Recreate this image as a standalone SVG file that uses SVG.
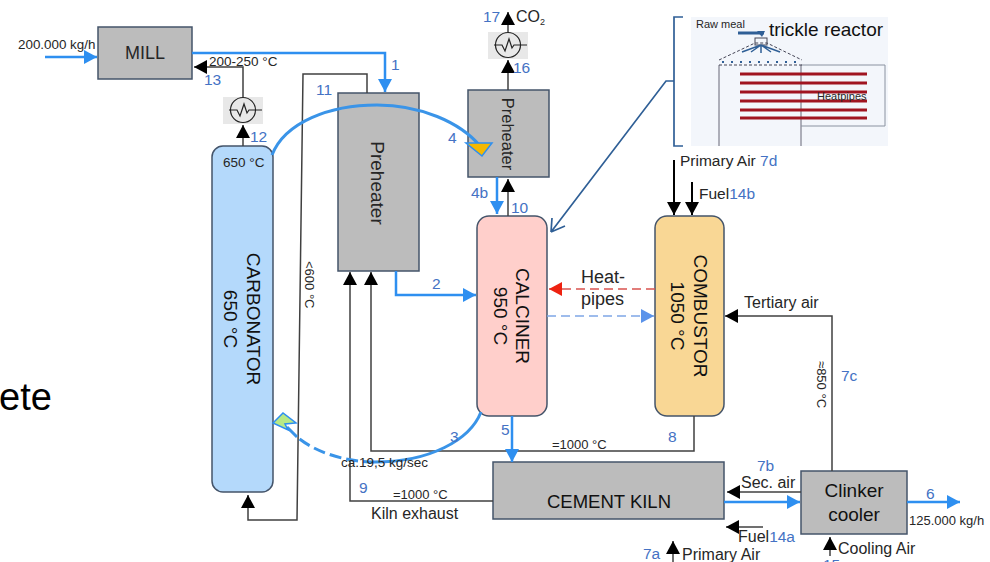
<svg xmlns="http://www.w3.org/2000/svg" width="990" height="562" viewBox="0 0 990 562">
<style>
text{font-family:"Liberation Sans",Arial,sans-serif;fill:#262626;font-size:16px}
.n{fill:#4472c4;font-size:15.5px}
.s{font-size:13px}
.g{fill:#bcbcbc;stroke:#44546a;stroke-width:1.5}
.k{fill:none;stroke:#404040;stroke-width:1.5}
.b{fill:none;stroke:#2e8ff0;stroke-width:2.5}
.hx{fill:#e8e8e8}
.c{fill:none;stroke:#222;stroke-width:1.2}
.bar{fill:none;stroke:#a01420;stroke-width:3}
.t{font-size:19px;fill:#111}
</style>
<defs>
<marker id="ka" markerUnits="userSpaceOnUse" markerWidth="14" markerHeight="14" refX="13" refY="7" orient="auto"><path d="M0,0L13,7L0,14z" fill="#000"/></marker>
<marker id="ba" markerUnits="userSpaceOnUse" markerWidth="14" markerHeight="16" refX="13" refY="7" orient="auto"><path d="M0,0L13,7L0,14z" fill="#2e8ff0"/></marker>
<marker id="ra" markerUnits="userSpaceOnUse" markerWidth="14" markerHeight="16" refX="13" refY="7" orient="auto"><path d="M0,0L13,7L0,14z" fill="#ee2211"/></marker>
<marker id="la" markerUnits="userSpaceOnUse" markerWidth="14" markerHeight="16" refX="13" refY="7" orient="auto"><path d="M0,0L13,7L0,14z" fill="#5b93ea"/></marker>
</defs>
<text x="-1" y="410" style="font-size:38px;fill:#000">ete</text>

<g id="mill"><rect class="g" x="98" y="27" width="94" height="52"/><text x="145" y="59" text-anchor="middle" style="font-size:18px">MILL</text></g>
<g id="hx1"><rect class="hx" x="223" y="97" width="40" height="27"/><circle class="c" cx="243" cy="110" r="12.5"/><path class="c" d="M229,110H237L240,116L244,104L247,113L249,110H262"/></g>
<g id="hx2"><rect class="hx" x="488" y="32" width="40" height="27"/><circle class="c" cx="508" cy="45" r="12.5"/><path class="c" d="M494,45H502L505,51L509,39L512,48L514,45H527"/></g>
<g id="carbonator"><rect x="212" y="146" width="61" height="346" rx="11" fill="#b4d9fb" stroke="#44546a" stroke-width="1.5"/><text x="223" y="167" style="font-size:13.5px">650 °C</text><text class="t" transform="translate(247,319) rotate(90)" text-anchor="middle">CARBONATOR</text><text class="t" transform="translate(224,319) rotate(90)" text-anchor="middle">650 °C</text></g>
<g id="preheater1"><rect class="g" x="338" y="93" width="81" height="178"/><text transform="translate(371,183) rotate(90)" text-anchor="middle" style="font-size:19px">Preheater</text></g>
<g id="preheater2"><rect class="g" x="468" y="90" width="81" height="87"/><text transform="translate(502,134) rotate(90)" text-anchor="middle" style="font-size:16.5px">Preheater</text></g>
<g id="calciner"><rect x="477" y="216" width="70" height="200" rx="12" fill="#ffcfcb" stroke="#44546a" stroke-width="1.5"/><text class="t" transform="translate(516,316) rotate(90)" text-anchor="middle">CALCINER</text><text class="t" transform="translate(494,316) rotate(90)" text-anchor="middle">950 °C</text></g>
<g id="combustor"><rect x="655" y="216" width="69" height="200" rx="12" fill="#f9d795" stroke="#44546a" stroke-width="1.5"/><text class="t" transform="translate(694,316) rotate(90)" text-anchor="middle">COMBUSTOR</text><text class="t" transform="translate(671,316) rotate(90)" text-anchor="middle">1050 °C</text></g>
<g id="kiln"><rect class="g" x="493" y="462" width="231" height="57"/><text class="t" x="609" y="508" text-anchor="middle" style="font-size:18.5px">CEMENT KILN</text></g>
<g id="cooler"><rect class="g" x="801" y="471" width="106" height="63"/><text class="t" x="854" y="497" text-anchor="middle">Clinker</text><text class="t" x="854" y="521" text-anchor="middle">cooler</text></g>

<g id="trickle-reactor">
<rect x="691" y="17" width="197" height="129" fill="#f3f6fb"/>
<path d="M719,65V146M801,65V146" fill="none" stroke="#667" stroke-width="1"/>
<path d="M801,65H885V126H801" fill="none" stroke="#8a92a0" stroke-width="1"/>
<path d="M719,60L755,43H767L802,60M719,65H802" fill="none" stroke="#445" stroke-width="1" stroke-dasharray="3 2"/>
<path d="M722,62H800" fill="none" stroke="#2f5f96" stroke-width="2" stroke-dasharray="2 7"/>
<path d="M738,33H764" stroke="#2f5f96" stroke-width="3" fill="none"/>
<path d="M757,31H765L762,37Z" fill="#2f5f96"/>
<rect x="755" y="38" width="12" height="7" fill="none" stroke="#445" stroke-width="1"/>
<path d="M761,45V53M761,45L742,52M761,45L780,52M761,45L751,52M761,45L771,52" stroke="#2f5f96" stroke-width="1.5" fill="none"/>
<path class="bar" d="M740,74H867M740,83H867M740,92H867M740,101H867M740,110H867M740,118H867"/>
<text x="696" y="28" style="font-size:11px">Raw meal</text>
<text x="769" y="36" style="font-size:19px;fill:#111">trickle reactor</text>
<text x="817" y="100" style="font-size:11px">Heatpipes</text>
</g>

<g id="connectors">
<path class="b" d="M45,57H97" marker-end="url(#ba)"/>
<path class="b" d="M192,53H385V92" marker-end="url(#ba)"/>
<path class="k" d="M243,97V67H194" marker-end="url(#ka)"/>
<path class="k" d="M243,146V125" marker-end="url(#ka)"/>
<path class="k" d="M367,93V74H303L297,520H248V495" marker-end="url(#ka)"/>
<path class="k" d="M493,501H350V272" marker-end="url(#ka)"/>
<path class="k" d="M694,416V451H371V272" marker-end="url(#ka)"/>
<path class="k" d="M832,471V316H725" marker-end="url(#ka)"/>
<path class="b" d="M396,271V295H476" marker-end="url(#ba)"/>
<path class="b" d="M497,177V214" marker-end="url(#ba)"/>
<path class="k" d="M508,216V179" marker-end="url(#ka)"/>
<path class="k" d="M508,90V60" marker-end="url(#ka)"/>
<path class="k" d="M508,32V12" marker-end="url(#ka)"/>
<path class="b" d="M512,416V462" marker-end="url(#ba)"/>
<path class="b" d="M724,502H800" marker-end="url(#ba)"/>
<path class="b" d="M907,502H960" marker-end="url(#ba)"/>
<path class="k" d="M801,492H727" marker-end="url(#ka)"/>
<path class="k" d="M763,527H726" marker-end="url(#ka)"/>
<path class="k" d="M673,562V541" marker-end="url(#ka)"/>
<path class="k" d="M830,556V537" marker-end="url(#ka)"/>
<path d="M674,160V215" fill="none" stroke="#000" stroke-width="2" marker-end="url(#ka)"/>
<path d="M692,182V215" fill="none" stroke="#000" stroke-width="2" marker-end="url(#ka)"/>
<path d="M655,289H549" fill="none" stroke="#d9534f" stroke-width="1.5" stroke-dasharray="9 5" marker-end="url(#ra)"/>
<path d="M547,316H654" fill="none" stroke="#7fa6e6" stroke-width="1.5" stroke-dasharray="9 5" marker-end="url(#la)"/>
<path d="M683,17H674V146H683M674,81H666L551,232M551,232L552,218M551,232L565,226" fill="none" stroke="#2f5f96" stroke-width="1.7"/>
<path d="M272,155C285,122 330,105 377,105C420,105 460,122 480,146" fill="none" stroke="#3a94e8" stroke-width="3"/>
<path d="M466,143H492L482,156Z" fill="#f5b800" stroke="#2e8ff0" stroke-width="1.5"/>
<path d="M481,412C470,440 430,462 375,462" fill="none" stroke="#3a94e8" stroke-width="3"/>
<path d="M375,462C345,462 315,452 297,437" fill="none" stroke="#3a94e8" stroke-width="3" stroke-dasharray="12 5"/>
<path d="M297,437L287,427" fill="none" stroke="#3a94e8" stroke-width="3"/>
<path d="M273,423L283,413L296,423L285,424L288,430Z" fill="#b8e986" stroke="#2e8ff0" stroke-width="1.5"/>
</g>

<g id="labels">
<text x="18" y="49" style="font-size:13.4px">200.000 kg/h</text>
<text x="209" y="66" style="font-size:13.5px">200-250 °C</text>
<text x="204" y="85" class="n">13</text>
<text x="250" y="142" class="n">12</text>
<text x="316" y="95" class="n">11</text>
<text x="391" y="70" class="n">1</text>
<text x="448" y="143" class="n">4</text>
<text x="471" y="198" class="n">4b</text>
<text x="511" y="213" class="n">10</text>
<text x="432" y="289" class="n">2</text>
<text x="513" y="73" class="n">16</text>
<text x="483" y="22" class="n">17</text>
<text x="516" y="22">CO<tspan font-size="9" dy="3">2</tspan></text>
<text x="680" y="166" style="font-size:15.5px">Primary Air <tspan class="n">7d</tspan></text>
<text x="699" y="199" style="font-size:15.5px">Fuel<tspan class="n">14b</tspan></text>
<text x="581" y="283" style="font-size:18px">Heat-</text>
<text x="581" y="305" style="font-size:18px">pipes</text>
<text x="744" y="308">Tertiary air</text>
<text transform="translate(817,361) rotate(90)" class="s">≈850 °C</text>
<text x="841" y="381" class="n">7c</text>
<text transform="translate(305,261) rotate(90)" class="s">&lt;600 °C</text>
<text x="450" y="442" class="n">3</text>
<text x="501" y="435" class="n">5</text>
<text x="668" y="442" class="n">8</text>
<text x="552" y="449" class="s">=1000 °C</text>
<text x="341" y="467" style="font-size:13.5px">ca.19,5 kg/sec</text>
<text x="359" y="493" class="n">9</text>
<text x="393" y="499" class="s">=1000 °C</text>
<text x="371" y="519">Kiln exhaust</text>
<text x="757" y="471" class="n">7b</text>
<text x="741" y="488">Sec. air</text>
<text x="738" y="542">Fuel<tspan class="n">14a</tspan></text>
<text x="643" y="559" class="n">7a</text>
<text x="682" y="560">Primary Air</text>
<text x="838" y="554">Cooling Air</text>
<text x="823" y="570" class="n">15</text>
<text x="926" y="499" class="n">6</text>
<text x="909" y="525" class="s">125.000 kg/h</text>
</g>
</svg>
